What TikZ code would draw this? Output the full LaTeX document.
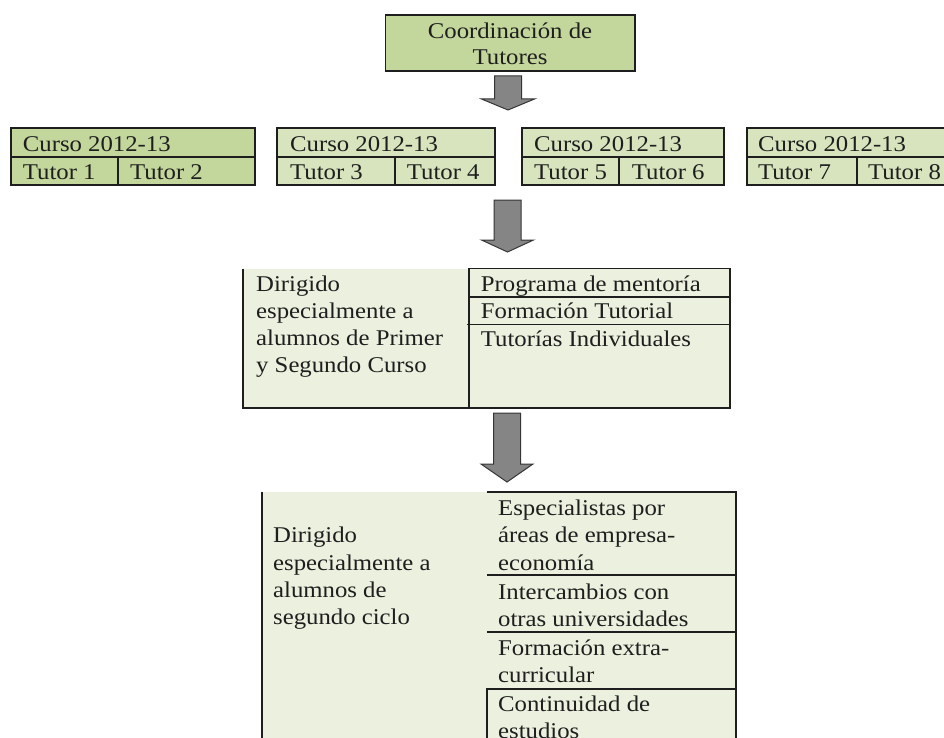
\documentclass[tikz,border=0pt]{standalone}
\usepackage{fontspec}
\setmainfont{Liberation Serif}[FakeStretch=1.1]
\definecolor{gA}{HTML}{C3D69B}
\definecolor{gB}{HTML}{D7E4BD}
\definecolor{gC}{HTML}{EBF1DE}
\definecolor{arrfill}{HTML}{858585}
\definecolor{ink}{HTML}{1E1E1E}
\tikzset{
  txt/.style={inner sep=0pt, anchor=base west, font=\fontsize{22.5}{27}\selectfont, text=ink},
  ctxt/.style={txt, anchor=base},
  rule/.style={draw=ink, line width=1.2pt},
  blockarrow/.style={fill=arrfill, draw=ink!90, line width=1pt, line join=miter},
}
\begin{document}
\begin{tikzpicture}[x=1pt,y=-1pt]
\useasboundingbox (0,0) rectangle (944,738);

% ---------- top box ----------
\fill[gA] (385.5,15) rectangle (635,71);
\draw[rule] (385.5,15) rectangle (635,71);
\node[ctxt] (coord1) at (510,38.3) {Coordinación de};
\node[ctxt] (coord2) at (510,65) {Tutores};

% ---------- arrow 1 ----------
\draw[blockarrow] (494.5,76) -- (521.5,76) -- (521.5,99) -- (534.5,99) -- (508,110) -- (481.5,99) -- (494.5,99) -- cycle;

% ---------- tier 2 boxes ----------
% box 1
\fill[gA] (11,128) rectangle (255,185);
\draw[rule] (11,128) rectangle (255,185);
\draw[rule] (11,157) -- (255,157);
\draw[rule] (118,157) -- (118,185);
\node[txt] (c1) at (22.7,151.7) {Curso 2012-13};
\node[txt] (t1) at (22.7,179) {Tutor 1};
\node[txt] (t2) at (130,179) {Tutor 2};
% box 2
\fill[gB] (277,128) rectangle (495,185);
\draw[rule] (277,128) rectangle (495,185);
\draw[rule] (276,157) -- (495,157);
\draw[rule] (395,157) -- (395,185);
\node[txt] (c2) at (290,151.7) {Curso 2012-13};
\node[txt] (t3) at (290,179) {Tutor 3};
\node[txt] (t4) at (406.7,179) {Tutor 4};
% box 3
\fill[gB] (522,128) rectangle (724,185);
\draw[rule] (522,128) rectangle (724,185);
\draw[rule] (521,157) -- (724,157);
\draw[rule] (619,157) -- (619,185);
\node[txt] (c3) at (534,151.7) {Curso 2012-13};
\node[txt] (t5) at (534,179) {Tutor 5};
\node[txt] (t6) at (631.7,179) {Tutor 6};
% box 4
\fill[gB] (747,128) rectangle (944,185);
\draw[rule] (944,128) -- (747,128) -- (747,185) -- (944,185);
\draw[rule] (747,157) -- (944,157);
\draw[rule] (857,157) -- (857,185);
\node[txt] (c4) at (758,151.7) {Curso 2012-13};
\node[txt] (t7) at (758,179) {Tutor 7};
\node[txt] (t8) at (868,179) {Tutor 8};

% ---------- arrow 2 ----------
\draw[blockarrow] (494,200) -- (521,200) -- (521,240) -- (533.5,240) -- (507.5,252) -- (481.5,240) -- (494,240) -- cycle;

% ---------- middle box ----------
\fill[gC] (243,268.7) rectangle (730,408);
\draw[rule] (243,268.7) -- (243,408) -- (730,408) -- (730,268.7) -- (469,268.7) -- (469,408);
\draw[rule] (469,297) -- (730,297);
\draw[rule] (467,324.5) -- (730,324.5);
\node[txt] (m1) at (256,291) {Dirigido};
\node[txt] (m2) at (256,318) {especialmente a};
\node[txt] (m3) at (256,345) {alumnos de Primer};
\node[txt] (m4) at (256,372) {y Segundo Curso};
\node[txt] (p1) at (480.7,291) {Programa de mentoría};
\node[txt] (p2) at (480.7,318.3) {Formación Tutorial};
\node[txt] (p3) at (480.7,346) {Tutorías Individuales};

% ---------- arrow 3 ----------
\draw[blockarrow] (493.5,413) -- (520.5,413) -- (520.5,464) -- (533,464) -- (507,482) -- (481,464) -- (493.5,464) -- cycle;

% ---------- lower box ----------
\fill[gC] (262,492) rectangle (736,745);
\draw[rule] (262,745) -- (262,492);
\draw[rule] (736,745) -- (736,492) -- (487,492);
\draw[rule] (487,575) -- (736,575);
\draw[rule] (487,632) -- (736,632);
\draw[rule] (487,745) -- (487,689) -- (736,689);
\node[txt] (l1) at (273,542.7) {Dirigido};
\node[txt] (l2) at (273,570) {especialmente a};
\node[txt] (l3) at (273,597) {alumnos de};
\node[txt] (l4) at (273,624) {segundo ciclo};
\node[txt] (r1) at (498,515) {Especialistas por};
\node[txt] (r2) at (498,542.5) {áreas de empresa-};
\node[txt] (r3) at (498,570) {economía};
\node[txt] (r4) at (498,599) {Intercambios con};
\node[txt] (r5) at (498,626) {otras universidades};
\node[txt] (r6) at (498,655) {Formación extra-};
\node[txt] (r7) at (498,682) {curricular};
\node[txt] (r8) at (498,711.5) {Continuidad de};
\node[txt] (r9) at (498,738.5) {estudios};
\end{tikzpicture}
\end{document}
